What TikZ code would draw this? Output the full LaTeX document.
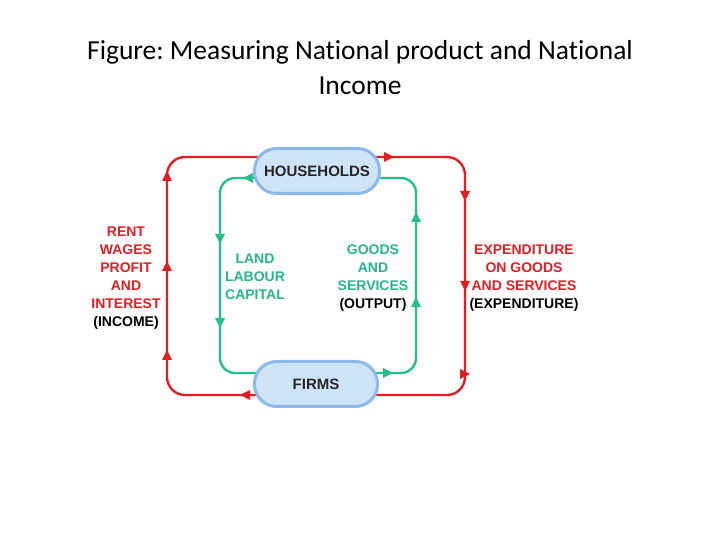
\documentclass[tikz,border=0pt]{standalone}
\usepackage{fontspec}
\setmainfont{Liberation Sans}
\newfontfamily\titlefont[Ligatures=NoCommon]{Carlito}
\usetikzlibrary{backgrounds}
\definecolor{flowred}{RGB}{226,30,36}
\definecolor{flowgreen}{RGB}{34,190,140}
\definecolor{labelgreen}{RGB}{38,182,136}
\definecolor{sectorfill}{RGB}{207,227,247}
\definecolor{sectorline}{RGB}{140,185,232}
\frenchspacing
\begin{document}
\begin{tikzpicture}[x=1pt,y=1pt,
		sector/.style={draw=sectorline,line width=3pt,fill=sectorfill,rounded corners=22pt,
			minimum height=45pt,font=\fontsize{15}{18}\selectfont\bfseries,text=black!85},
		redline/.style={draw=flowred,line width=2.4pt,rounded corners=18pt},
		greenline/.style={draw=flowgreen,line width=2.4pt,rounded corners=15pt},
		flowlabel/.style={align=center,font=\fontsize{14}{18}\selectfont\bfseries}]
		\useasboundingbox (0,0) rectangle (720,540);
		\node[font=\titlefont\fontsize{27.5}{35}\selectfont,align=center] (title) at (360,472)
			{Figure: Measuring National product and National\\Income};
		
		\node[sector,minimum width=125pt] (hh) at (317,369) {HOUSEHOLDS};
		\node[sector,minimum width=123pt] (ff) at (316,156) {FIRMS};
		
		\begin{scope}[on background layer]
			% money flows
			\draw [redline] ([yshift=-11pt]ff.center) -| (167,383) -- ([yshift=14pt]hh.center);
			\draw [redline] ([yshift=14pt]hh.center) -| (465,145) -- ([yshift=-11pt]ff.center);
			% real flows
			\draw [greenline] ([yshift=-7pt]hh.center) -| (220,167) -- ([yshift=11pt]ff.center);
			\draw [greenline] ([yshift=11pt]ff.center) -| (416,362) -- ([yshift=-7pt]hh.center);
		\end{scope}
		
		\fill [flowred] (167,369) -- ++(-5,-10) -- ++(10,0) -- cycle;
		\fill [flowred] (167,279) -- ++(-5,-10) -- ++(10,0) -- cycle;
		\fill [flowred] (167,190) -- ++(-5,-10) -- ++(10,0) -- cycle;
		\fill [flowred] (240,145) -- ++(10,5) -- ++(0,-10) -- cycle;
		\fill [flowred] (394,383) -- ++(-10,5) -- ++(0,-10) -- cycle;
		\fill [flowred] (465,339) -- ++(-5,10) -- ++(10,0) -- cycle;
		\fill [flowred] (465,249) -- ++(-5,10) -- ++(10,0) -- cycle;
		\fill [flowred] (470,166) -- ++(-10,5) -- ++(0,-10) -- cycle;
		
		\fill [flowgreen] (243,362) -- ++(10,5) -- ++(0,-10) -- cycle;
		\fill [flowgreen] (220,296) -- ++(-5,10) -- ++(10,0) -- cycle;
		\fill [flowgreen] (220,212) -- ++(-5,10) -- ++(10,0) -- cycle;
		\fill [flowgreen] (416,328) -- ++(-5,-10) -- ++(10,0) -- cycle;
		\fill [flowgreen] (416,243) -- ++(-5,-10) -- ++(10,0) -- cycle;
		\fill [flowgreen] (393,167) -- ++(-10,5) -- ++(0,-10) -- cycle;
		
		\node[flowlabel,text=flowred] (income) at (126,262)
			{RENT\\WAGES\\PROFIT\\AND\\INTEREST\\\textcolor{black}{(INCOME)}};
		\node[flowlabel,text=flowred] (spend) at (524,262)
			{EXPENDITURE\\ON GOODS\\AND SERVICES\\\textcolor{black}{(EXPENDITURE)}};
		\node[flowlabel,text=labelgreen] (factors) at (255,263) {LAND\\LABOUR\\CAPITAL};
		\node[flowlabel,text=labelgreen] (goods) at (373,262)
			{GOODS\\AND\\SERVICES\\\textcolor{black}{(OUTPUT)}};
	\end{tikzpicture}
\end{document}
